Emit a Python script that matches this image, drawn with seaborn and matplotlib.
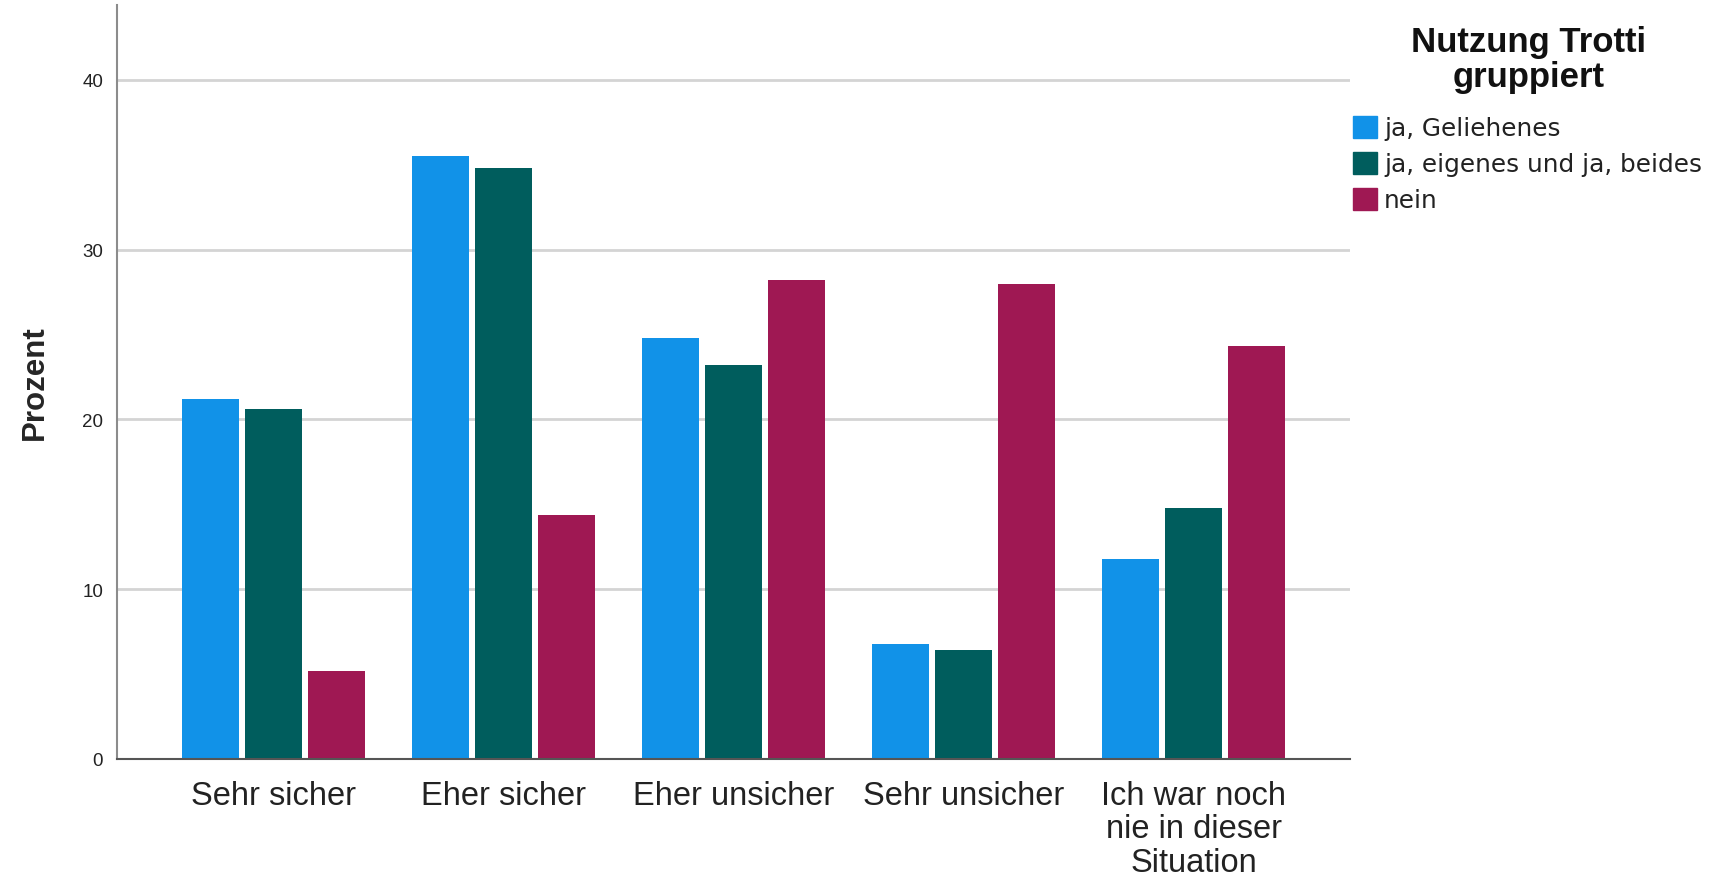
import pandas as pd
import matplotlib
matplotlib.use('Agg')
import matplotlib.pyplot as plt
import seaborn as sns

# Kategorien und Werte (Prozent)
kategorien = ['Sehr sicher', 'Eher sicher', 'Eher unsicher', 'Sehr unsicher',
              'Ich war noch\nnie in dieser\nSituation']
gruppen = ['ja, Geliehenes', 'ja, eigenes und ja, beides', 'nein']
geliehen = [21.2, 35.5, 24.8, 6.8, 11.8]
eigenes = [20.6, 34.8, 23.2, 6.4, 14.8]
nein = [5.2, 14.4, 28.2, 28.0, 24.3]
farben = ['#1192e8', '#005d5d', '#9f1853']

rows = []
for g, werte in zip(gruppen, [geliehen, eigenes, nein]):
    for k, v in zip(kategorien, werte):
        rows.append({'Kategorie': k, 'Gruppe': g, 'Prozent': v})
df = pd.DataFrame(rows)

sns.set_theme(style='white')
plt.rcParams['font.family'] = ['Liberation Sans', 'DejaVu Sans']

fig = plt.figure(figsize=(17.11, 8.78), dpi=100)
ax = fig.add_axes([0.0684, 0.1344, 0.7206, 0.8586])

sns.barplot(data=df, x='Kategorie', y='Prozent', hue='Gruppe', order=kategorien,
            hue_order=gruppen, palette=farben, width=0.823, gap=0.1,
            saturation=1, linewidth=0, ax=ax)

ax.set_xlim(-0.68, 4.68)
ax.set_ylim(0, 44.4)
ax.set_yticks([0, 10, 20, 30, 40])
ax.yaxis.grid(True, color='#d4d4d4', linewidth=2)
ax.set_axisbelow(True)
for s in ['top', 'right']:
    ax.spines[s].set_visible(False)
ax.spines['left'].set_color('#8c8c8c')
ax.spines['left'].set_linewidth(1.5)
ax.spines['bottom'].set_color('#555555')
ax.spines['bottom'].set_linewidth(1.5)

ax.tick_params(axis='y', length=0, pad=10, labelsize=13.5, labelcolor='#222222')
ax.tick_params(axis='x', length=0, pad=15, labelsize=23.5, labelcolor='#222222')
for t in ax.get_xticklabels():
    t.set_linespacing(1.1)
ax.set_xlabel('')
ax.set_ylabel('Prozent', fontsize=22.5, fontweight='bold', labelpad=23)

# Legende: Titel separat, zentriert über den Einträgen
ax.legend_.remove()
fig.text(0.8936, 0.970, 'Nutzung Trotti\ngruppiert', ha='center', va='top',
         fontsize=25, fontweight='bold', linespacing=1.05, color='#111111')
handles = [plt.Rectangle((0, 0), 1, 1, color=c) for c in farben]
leg = fig.legend(handles, gruppen, loc='upper left', bbox_to_anchor=(0.7905, 0.867),
                 frameon=False, borderpad=0, borderaxespad=0, fontsize=17.8,
                 handlelength=0.97, handleheight=1.0, handletextpad=0.3,
                 labelspacing=0.46)
for t in leg.get_texts():
    t.set_family(['DejaVu Sans'])
    t.set_color('#222222')

fig.savefig('out.png', dpi=100, facecolor='white')
